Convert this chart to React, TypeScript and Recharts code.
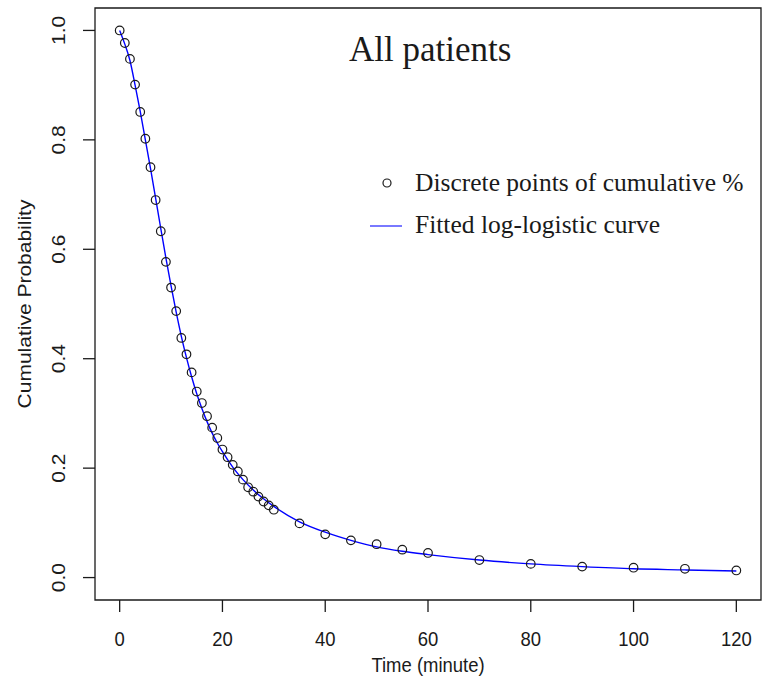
import { ComposedChart, Legend, Line, ReferenceArea, Scatter, XAxis, YAxis } from 'recharts';

// observed cumulative % (open circles)
const pointTimes = [
  0, 1, 2, 3, 4, 5, 6, 7, 8, 9, 10, 11, 12, 13, 14, 15, 16, 17, 18, 19, 20, 21, 22, 23, 24, 25, 26, 27, 28, 29, 30,
  35, 40, 45, 50, 55, 60, 70, 80, 90, 100, 110, 120,
];
const pointValues = [
  1.0, 0.977, 0.948, 0.901, 0.851, 0.802, 0.75, 0.69, 0.633, 0.577, 0.53, 0.487, 0.438, 0.408, 0.375, 0.34, 0.319,
  0.295, 0.274, 0.255, 0.234, 0.22, 0.206, 0.194, 0.179, 0.165, 0.157, 0.148, 0.139, 0.132, 0.124, 0.099, 0.079,
  0.068, 0.061, 0.051, 0.045, 0.032, 0.025, 0.02, 0.018, 0.016, 0.013,
];

// fitted log-logistic curve
const fitTimes = [
  0, 1, 2, 3, 4, 5, 6, 7, 8, 9, 10, 11, 12, 13, 14, 15, 16, 17, 18, 19, 20, 22, 24, 26, 28, 30, 35, 40, 45, 50, 55,
  60, 70, 80, 90, 100, 110, 120,
];
const fitValues = [
  1.0, 0.975, 0.945, 0.9, 0.852, 0.8, 0.748, 0.693, 0.638, 0.584, 0.533, 0.485, 0.441, 0.402, 0.367, 0.336, 0.309,
  0.285, 0.264, 0.246, 0.23, 0.202, 0.179, 0.16, 0.144, 0.13, 0.102, 0.083, 0.068, 0.056, 0.048, 0.042, 0.032, 0.025,
  0.02, 0.016, 0.014, 0.012,
];

const xTicks = [0, 20, 40, 60, 80, 100, 120];
const yTicks = [0, 0.2, 0.4, 0.6, 0.8, 1.0];
const seriesNames = ['Discrete points of cumulative %', 'Fitted log-logistic curve'];

const points = pointTimes.map((t, i) => ({ t, p: pointValues[i] }));
const fitted = fitTimes.map((t, i) => ({ t, f: fitValues[i] }));

const ink = '#1a1a1a';
const sans = '"Liberation Sans", Arial, sans-serif';
const serif = '"Liberation Serif", "Times New Roman", serif';

const XTick = ({ x, y, payload }: any) => (
  <g transform={`translate(${x},${y + 32})`}>
    <text textAnchor="middle" fontFamily={sans} fontSize={21} fill={ink} transform="scale(0.88,1)">
      {payload.value}
    </text>
  </g>
);

const YTick = ({ x, y, payload }: any) => (
  <g transform={`translate(${x - 16},${y}) rotate(-90)`}>
    <text textAnchor="middle" fontFamily={sans} fontSize={21} fill={ink} transform="scale(1,0.88)">
      {Number(payload.value).toFixed(1)}
    </text>
  </g>
);

const XTitle = ({ viewBox }: any) => (
  <g transform={`translate(${viewBox.x + viewBox.width / 2},672)`}>
    <text textAnchor="middle" fontFamily={sans} fontSize={21} fill={ink} transform="scale(0.88,1)">
      Time (minute)
    </text>
  </g>
);

const YTitle = ({ viewBox }: any) => (
  <g transform={`translate(31,${viewBox.y + viewBox.height / 2}) rotate(-90)`}>
    <text textAnchor="middle" fontFamily={sans} fontSize={21} fill={ink} transform="scale(1,0.88)">
      Cumulative Probability
    </text>
  </g>
);

const Circle = ({ cx, cy }: any) => <circle cx={cx} cy={cy} r={4.3} fill="none" stroke={ink} strokeWidth={1.2} />;

const LegendBox = () => (
  <svg width={400} height={80}>
    <circle cx={27} cy={20} r={4} fill="none" stroke={ink} strokeWidth={1.2} />
    <text x={55} y={28} fontFamily={serif} fontSize={25.5} fill={ink}>
      {seriesNames[0]}
    </text>
    <line x1={10} x2={42} y1={63} y2={63} stroke="#4d4dff" strokeWidth={1.5} />
    <text x={55} y={70} fontFamily={serif} fontSize={25.5} fill={ink}>
      {seriesNames[1]}
    </text>
  </svg>
);

const App = () => (
  <div style={{ position: 'absolute', left: 0, top: 0, width: 762, height: 685, background: '#fff' }}>
    <ComposedChart width={762} height={685} margin={{ top: 8, right: 1, left: 0, bottom: 0 }}>
      <XAxis
        type="number"
        dataKey="t"
        domain={[-4.8, 124.8]}
        ticks={xTicks}
        allowDataOverflow
        height={85}
        axisLine={false}
        tickSize={12}
        tickLine={{ stroke: ink, strokeWidth: 1.3 }}
        tick={<XTick />}
        label={<XTitle />}
      />
      <YAxis
        type="number"
        domain={[-0.041, 1.041]}
        ticks={yTicks}
        allowDataOverflow
        width={95}
        axisLine={false}
        tickSize={12}
        tickLine={{ stroke: ink, strokeWidth: 1.3 }}
        tick={<YTick />}
        label={<YTitle />}
      />
      <ReferenceArea
        x1={-4.8}
        x2={124.8}
        y1={-0.041}
        y2={1.041}
        fill="none"
        stroke={ink}
        strokeWidth={1.3}
        ifOverflow="visible"
      />
      <Scatter name={seriesNames[0]} data={points} dataKey="p" shape={<Circle />} isAnimationActive={false} />
      <Line
        name={seriesNames[1]}
        data={fitted}
        dataKey="f"
        type="monotone"
        stroke="#0000ff"
        strokeWidth={1.4}
        dot={false}
        isAnimationActive={false}
      />
      <Legend
        layout="horizontal"
        verticalAlign="middle"
        align="center"
        content={<LegendBox />}
        wrapperStyle={{ left: 360, top: 163, width: 400, height: 80 }}
      />
    </ComposedChart>
    <div
      style={{
        position: 'absolute',
        left: 349,
        top: 32,
        fontFamily: serif,
        fontSize: 35,
        lineHeight: '36px',
        color: ink,
        pointerEvents: 'none',
      }}
    >
      All patients
    </div>
  </div>
);

export default App;
